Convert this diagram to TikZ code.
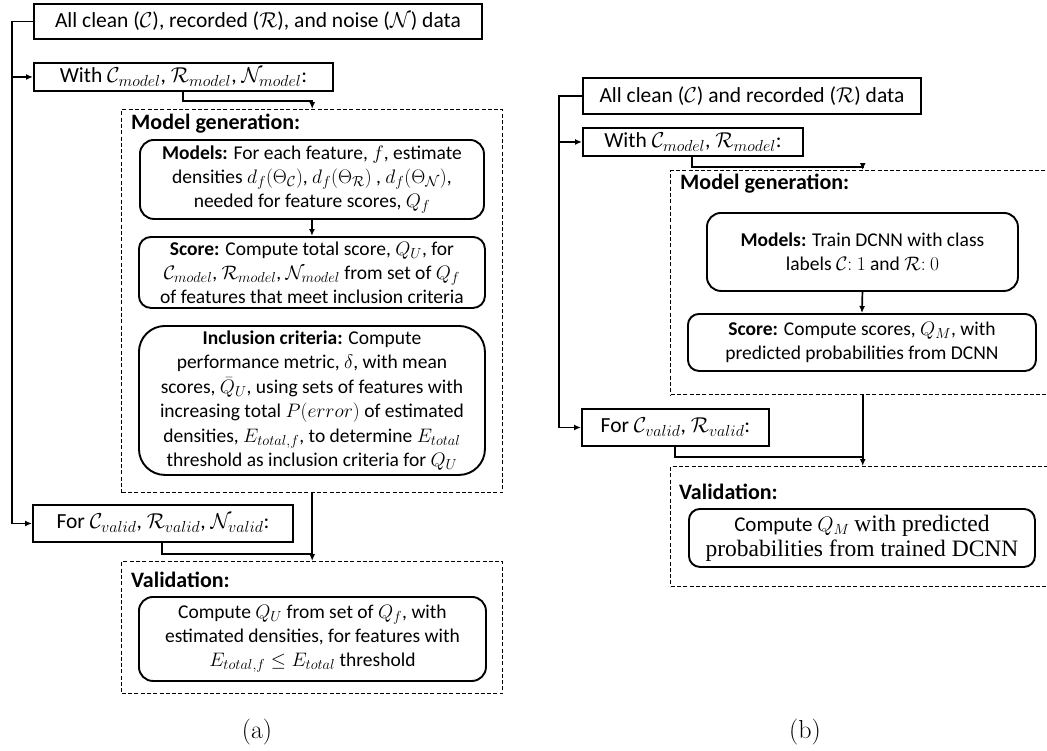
\RequirePackage{fix-cm}
\documentclass[tikz,border=0pt]{standalone}
\usepackage[no-math]{fontspec}
\setmainfont{Carlito}
\newfontfamily\serifcam[Scale=1.12]{Liberation Serif}
\newfontfamily\lmr{Latin Modern Roman}
\DeclareMathSizes{19.5}{19.5}{14.5}{10}
\DeclareMathSizes{21.5}{21.5}{16}{11}
\usetikzlibrary{arrows.meta}
\begin{document}
\begin{tikzpicture}[x=1pt,y=-1pt,
  every node/.style={font=\fontsize{19.5}{24}\selectfont},
  sbox/.style={draw, line width=1.9pt, anchor=north west, inner xsep=5pt, inner ysep=0pt, font=\fontsize{21.5}{25}\selectfont},
  rbox/.style={draw, line width=1.9pt, anchor=north west, inner sep=0pt, align=center, rounded corners=#1},
  dbox/.style={draw, line width=1.4pt, dash pattern=on 4pt off 2.3pt, anchor=north west, inner sep=0pt},
  ttl/.style={anchor=west, inner sep=0pt, font=\fontsize{22}{26}\selectfont\bfseries},
  ln/.style={line width=1.7pt},
  arr/.style={line width=1.7pt, -{Latex[length=7pt,width=6pt]}},
  sublabel/.style={font=\lmr\fontsize{26}{30}\selectfont}
]
\useasboundingbox (0,0) rectangle (1047,750);

% ---------------- (a) ----------------
\node[sbox, minimum width=448, minimum height=35] (a1) at (33,3) {All clean ($\mathcal{C}$), recorded ($\mathcal{R}$), and noise ($\mathcal{N}$) data};
\node[sbox, minimum width=299, minimum height=28] (a2) at (33,62) {With $\mathcal{C}_{model}$, $\mathcal{R}_{model}$, $\mathcal{N}_{model}$:};
\node[dbox, minimum width=381, minimum height=383] (mg) at (121,109) {};
\node[ttl] (mgt) at (131,124) {Model generation:};
\node[rbox=14pt, minimum width=344, minimum height=79] (am) at (139,139)
  {\textbf{Models:} For each feature, $f$, estimate\\ densities $d_f(\Theta_{\mathcal{C}})$, $d_f(\Theta_{\mathcal{R}})$ , $d_f(\Theta_{\mathcal{N}})$,\\ needed for feature scores, $Q_f$};
\node[rbox=12pt, minimum width=346, minimum height=71] (as) at (138,236)
  {\textbf{Score:} Compute total score, $Q_U$, for\\ $\mathcal{C}_{model}$, $\mathcal{R}_{model}$, $\mathcal{N}_{model}$ from set of $Q_f$\\ of features that meet inclusion criteria};
\node[rbox=26pt, minimum width=346, minimum height=149, font=\fontsize{19.5}{24.5}\selectfont] (ai) at (138,325)
  {\textbf{Inclusion criteria:} Compute\\ performance metric, $\delta$, with mean\\ scores, $\bar{Q}_U$, using sets of features with\\ increasing total $P(error)$ of estimated\\ densities, $E_{total,f}$, to determine $E_{total}$\\ threshold as inclusion criteria for $Q_U$};
\node[sbox, minimum width=260, minimum height=37] (a4) at (32,504) {For $\mathcal{C}_{valid}$, $\mathcal{R}_{valid}$, $\mathcal{N}_{valid}$:};
\node[dbox, minimum width=381, minimum height=132] (va) at (121,561) {};
\node[ttl] (vat) at (131,580) {Validation:};
\node[rbox=14pt, minimum width=347, minimum height=84] (av) at (138,596)
  {Compute $Q_U$ from set of $Q_f$, with\\ estimated densities, for features with\\ $E_{total,f} \le E_{total}$ threshold};
\node[sublabel] (capa) at (257,732) {(a)};

\draw[arr] (a1.west) -- ++(-21,0) |- (a4.west);
\draw[arr] (a1.west) ++(-21,0) |- (a2.west);
\draw[arr] ([xshift=150pt]a2.south west) -- ++(0,9) -| (mg.north);
\draw[arr] (am.south) -- (as.north);
\draw[arr] (mg.south) -- (va.north);
\draw[ln] ([xshift=130pt]a4.south west) -- ++(0,11) -| ([yshift=9pt]va.north);

% ---------------- (b) ----------------
\node[sbox, minimum width=338, minimum height=36] (b1) at (582,77) {All clean ($\mathcal{C}$) and recorded ($\mathcal{R}$) data};
\node[sbox, minimum width=220, minimum height=28] (b2) at (582,127) {With $\mathcal{C}_{model}$, $\mathcal{R}_{model}$:};
\node[dbox, minimum width=384, minimum height=224] (bmg) at (670,170) {};
\node[ttl] (bmgt) at (680,184) {Model generation:};
\node[rbox=14pt, minimum width=311, minimum height=78] (bm) at (706,212)
  {\textbf{Models:} Train DCNN with class\\ labels $\mathcal{C}{:}\ 1$ and $\mathcal{R}{:}\ 0$};
\node[rbox=11pt, minimum width=348, minimum height=57] (bs) at (687,313)
  {\textbf{Score:} Compute scores, $Q_M$, with\\ predicted probabilities from DCNN};
\node[sbox, minimum width=187, minimum height=37] (b4) at (581,408) {For $\mathcal{C}_{valid}$, $\mathcal{R}_{valid}$:};
\node[dbox, minimum width=384, minimum height=120] (bva) at (670,466) {};
\node[ttl] (bvat) at (679,492) {Validation:};
\node[rbox=11pt, minimum width=346, minimum height=58, font=\fontsize{21}{25}\selectfont] (bv) at (688,508)
  {Compute $Q_M$ {\serifcam with predicted}\\ {\serifcam probabilities from trained DCNN}};
\node[sublabel] (capb) at (805,732) {(b)};

\draw[arr] (b1.west) -- ++(-23,0) |- (b4.west);
\draw[arr] (b1.west) ++(-23,0) |- (b2.west);
\draw[arr] ([xshift=110pt]b2.south west) -- ++(0,10) -| (bmg.north);
\draw[arr] (bm.south) -- (bs.north);
\draw[arr] (bmg.south) -- (bva.north);
\draw[ln] ([xshift=94pt]b4.south west) -- ++(0,10) -| ([yshift=11pt]bva.north);
\end{tikzpicture}
\end{document}
